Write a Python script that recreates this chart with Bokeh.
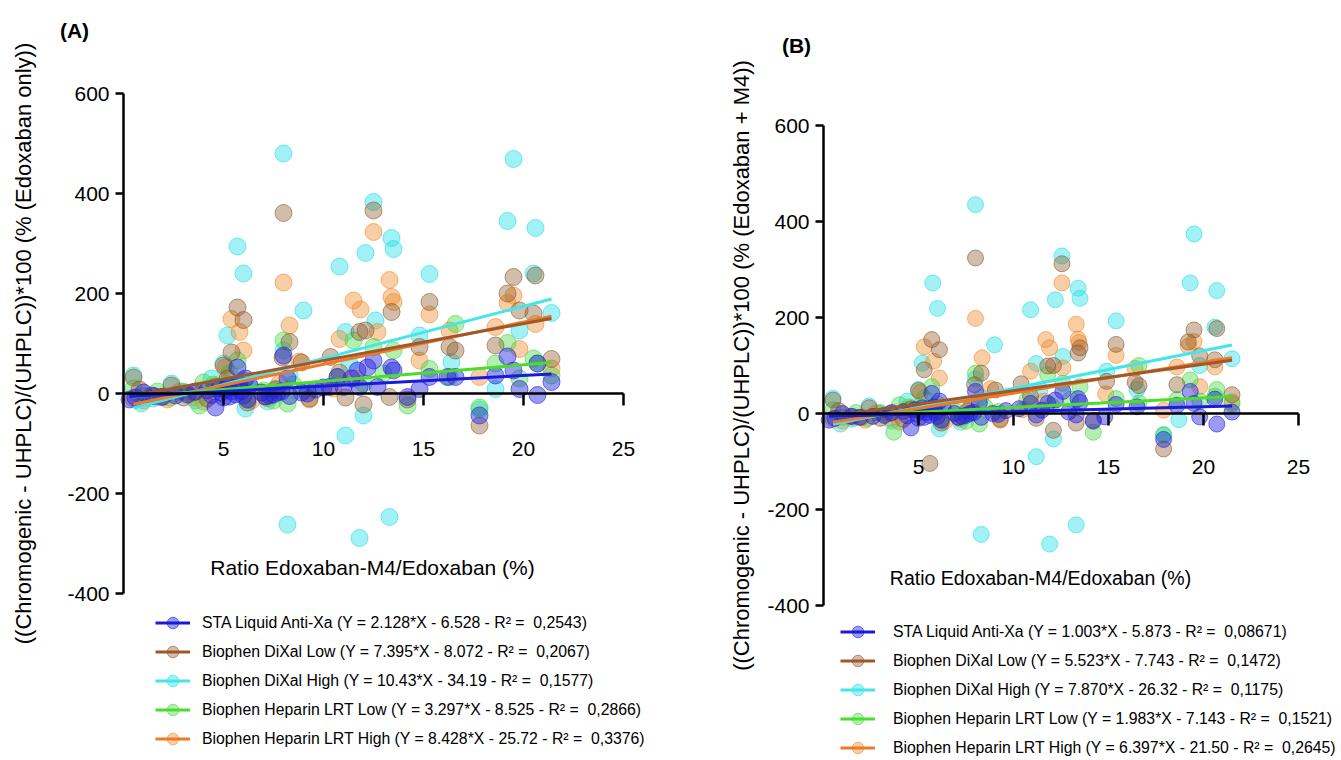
from bokeh.plotting import figure
from bokeh.models import Range1d, FixedTicker, Legend, LegendItem, Label
from bokeh.layouts import row
from bokeh.embed import file_html
from bokeh.resources import INLINE

FONT = "Liberation Sans"

series_names = ["STA Liquid Anti-Xa", "Biophen DiXal Low", "Biophen DiXal High",
                "Biophen Heparin LRT Low", "Biophen Heparin LRT High"]
line_colors = ["#1a1ad9", "#a0582a", "#45e6ea", "#4ade2a", "#ec7a28"]
fill_colors = ["#2222e0", "#8b5a2b", "#22dfe6", "#3fd93f", "#ef8a2c"]
fill_alphas = [0.45, 0.4, 0.42, 0.4, 0.42]

x_ticks = [5, 10, 15, 20, 25]
y_ticks = [-400, -200, 0, 200, 400, 600]
y_tick_text = {-400: "-400", -200: "-200", 0: "0", 200: "200", 400: "400", 600: "600"}

# ---------------- Panel A (Edoxaban only) ----------------
a_sta_x = [0.3, 0.6, 1.0, 1.5, 1.9, 2.6, 3.2, 3.6, 4.2, 4.4, 4.6, 4.8, 4.9, 5.0, 5.1, 5.2, 5.3, 5.4, 5.5, 5.6,
           5.7, 5.8, 5.9, 6.0, 6.1, 6.2, 6.3, 6.9, 7.1, 7.3, 7.5, 7.7, 7.9, 8.0, 8.2, 8.3, 8.9, 9.2, 9.6, 10.0,
           10.3, 10.7, 11.0, 11.4, 11.7, 11.8, 12.2, 12.5, 12.7, 13.4, 13.5, 14.2, 14.8, 15.3, 16.2, 16.6, 17.8,
           18.6, 19.2, 19.5, 19.8, 20.7, 20.7, 21.4]
a_sta_y = [-12, -8, 2, -5, -7, -4, -2, 4, 6, -3, -28, 10, 2, -8, 8, 14, -6, 4, 12, -2,
           52, 18, 5, -4, 30, -12, 16, 2, -6, -4, -2, 2, 4, 76, 30, -5, 2, 0, 8, 12,
           13, 33, 13, 30, 46, 13, 52, 66, 13, 52, 46, -7, 9, 33, 33, 33, -44,
           36, 74, 46, 9, 60, -3, 23]

a_dlow_x = [0.5, 0.8, 1.4, 2.0, 2.4, 3.0, 3.5, 4.2, 4.6, 5.0, 5.2, 5.4, 5.7, 6.0, 6.2, 7.1, 7.6, 7.95, 8.0, 8.3,
            8.9, 9.3, 10.35, 10.8, 11.1, 11.8, 12.0, 12.1, 12.5, 13.3, 13.4, 14.2, 14.8, 15.3, 16.3, 16.6, 17.8,
            18.6, 19.2, 19.5, 19.8, 20.5, 20.6, 21.4]
a_dlow_y = [32, 8, -4, -6, 16, -8, 2, -10, 14, 56, 30, 82, 172, 147, -18, -6, 8, 72, 361, 103,
            62, -10, 73, 42, -8, 123, -22, 126, 366, -7, 163, -12, 93, 183, 93, 86, -64,
            96, 200, 233, 166, 160, 236, 69]

a_dhigh_x = [0.5, 0.9, 1.5, 2.4, 3.0, 3.6, 4.4, 5.0, 5.1, 5.2, 5.7, 6.0, 6.1, 6.3, 7.2, 7.6, 8.0, 8.0, 8.2, 8.3,
             9.0, 10.8, 11.1, 11.1, 11.3, 11.8, 12.0, 12.1, 12.5, 12.6, 13.3, 13.4, 13.5, 14.8, 15.3, 16.4,
             17.8, 18.6, 19.2, 19.5, 19.8, 20.5, 20.6, 21.4]
a_dhigh_y = [36, -20, -10, 20, 4, -14, 30, 60, 20, 116, 294, 240, -30, 16, -16, 10, 480, 86, -262, 40,
             166, 254, -84, 123, 60, -289, -44, 281, 383, 146, -247, 311, 289, 116, 239, 63,
             -32, 9, 345, 469, 126, 240, 331, 161]

a_hlow_x = [0.5, 1.0, 1.7, 2.3, 3.0, 3.8, 4.0, 4.5, 5.0, 5.3, 5.7, 6.0, 6.2, 7.0, 7.5, 8.0, 8.2, 8.5, 9.2, 10.7,
            11.5, 12.0, 12.5, 13.0, 13.5, 14.2, 15.3, 16.3, 16.6, 17.8, 18.6, 19.2, 19.8, 20.5, 20.7, 21.4]
a_hlow_y = [10, -6, 4, -8, 2, -24, 22, 18, 10, 40, 66, 26, -10, 6, -14, 106, -20, 18, 6, 33,
            106, 20, 93, 40, 86, -24, 49, 33, 139, -28, 60, 101, 30, 70, 60, 36]

a_hhigh_x = [0.5, 1.0, 1.6, 2.2, 2.8, 3.5, 4.0, 4.5, 5.1, 5.4, 5.8, 6.0, 6.4, 7.2, 7.8, 8.0, 8.3, 8.8, 9.3, 10.5,
             10.8, 11.5, 11.6, 11.85, 12.5, 12.7, 13.3, 13.4, 13.5, 14.8, 15.3, 16.3, 17.8, 18.6, 19.2, 19.5,
             19.8, 20.6, 21.4]
a_hhigh_y = [-10, -14, -6, -12, 4, -8, -16, 10, 52, 149, 123, 86, -14, -10, 20, 222, 136, 64, -12, 10,
             109, 186, 30, 168, 323, 123, 227, 193, 183, 66, 158, 126, 33, 133, 181, 196,
             89, 139, 50]

a_slopes = ["2.128", "7.395", "10.43", "3.297", "8.428"]
a_intercepts = ["6.528", "8.072", "34.19", "8.525", "25.72"]
a_r2 = ["0,2543", "0,2067", "0,1577", "0,2866", "0,3376"]

# ---------------- Panel B (Edoxaban + M4) ----------------
b_sta_x = [0.3, 0.6, 1.0, 1.5, 1.9, 2.6, 3.2, 3.6, 4.2, 4.4, 4.6, 4.8, 4.9, 5.0, 5.1, 5.2, 5.3, 5.4, 5.5, 5.6,
           5.7, 5.8, 5.9, 6.0, 6.1, 6.2, 6.3, 6.9, 7.1, 7.3, 7.5, 7.7, 7.9, 8.0, 8.2, 8.3, 8.9, 9.2, 9.6, 10.3,
           10.9, 11.2, 11.5, 11.8, 12.2, 12.6, 12.9, 13.3, 13.4, 13.5, 14.2, 14.8, 15.4, 16.5, 17.9,
           18.6, 19.3, 19.5, 19.8, 20.6, 20.7, 21.5]
b_sta_y = [-14, -10, 0, -6, -8, -6, -4, 2, 4, -5, -30, 8, 0, -10, 6, 12, -8, 2, 10, -4,
           42, 14, 2, -6, 26, -14, 12, 0, -8, -6, -4, 0, 2, 46, 22, -8, 0, -2, 6, 10,
           21, -3, 7, 21, 28, 46, 3, -3, 31, 23, -16, -7, 19, 14, -54,
           17, 46, 21, -7, 30, -22, 3]

b_dlow_x = [0.5, 0.8, 1.4, 2.0, 2.4, 3.0, 3.5, 4.2, 4.6, 5.0, 5.3, 5.6, 5.7, 6.1, 6.2, 7.1, 7.6, 7.95, 8.0, 8.3,
            9.05, 9.3, 10.4, 10.9, 11.2, 11.8, 12.1, 12.1, 12.55, 13.3, 13.4, 13.5, 14.2, 14.9, 15.4, 16.4,
            16.6, 17.9, 18.6, 19.2, 19.5, 19.8, 20.6, 20.7, 21.5]
b_dlow_y = [28, 6, -6, -8, 12, -10, 0, -12, 10, 48, 91, -104, 154, 133, -20, -8, 6, 60, 324, 84,
            49, -12, 62, 36, -10, 99, 100, -35, 312, -20, 126, 137, -14, 67, 144, 65,
            58, -74, 60, 149, 174, 120, 112, 177, 39]

b_dhigh_x = [0.5, 0.9, 1.5, 2.4, 3.0, 3.6, 4.4, 5.0, 5.1, 5.2, 5.75, 6.0, 6.1, 6.3, 7.2, 7.6, 8.0, 8.0, 8.3, 8.3,
             9.0, 10.9, 11.2, 11.2, 11.4, 11.9, 12.1, 12.2, 12.55, 12.6, 13.3, 13.4, 13.5, 14.9, 15.4, 16.5,
             17.9, 18.7, 19.3, 19.5, 19.8, 20.6, 20.7, 21.5]
b_dhigh_y = [32, -22, -12, 16, 2, -16, 26, 50, 16, 105, 272, 219, -32, 12, -18, 8, 435, 72, -252, 34,
             143, 216, -90, 104, 50, -272, -53, 237, 328, 119, -232, 261, 240, 88, 193, 50,
             -44, -13, 272, 374, 100, 180, 256, 114]

b_hlow_x = [0.5, 1.0, 1.7, 2.3, 3.0, 3.7, 4.0, 4.5, 5.0, 5.3, 5.7, 6.0, 6.2, 7.0, 7.5, 8.0, 8.2, 8.5, 9.2, 10.7,
            11.8, 12.0, 12.6, 13.0, 13.5, 14.2, 15.4, 16.6, 16.6, 17.9, 18.6, 19.3, 19.8, 20.6, 20.7, 21.5]
b_hlow_y = [8, -8, 2, -10, 0, -39, 18, 14, 8, 32, 56, 20, -12, 4, -16, 84, -22, 14, 4, 28,
            81, 16, 63, 30, 56, -39, 31, 100, 22, -45, 29, 70, 26, 36, 50, 20]

b_hhigh_x = [0.5, 1.0, 1.6, 2.2, 2.8, 3.5, 4.0, 4.5, 5.1, 5.3, 5.8, 6.1, 6.4, 7.2, 7.8, 8.0, 8.35, 8.8, 9.3, 10.5,
             10.9, 11.7, 11.6, 11.9, 12.55, 12.6, 13.3, 13.4, 13.45, 14.85, 15.4, 16.4, 17.9, 18.6, 19.2, 19.5,
             19.8, 20.6, 21.5]
b_hhigh_y = [-12, -16, -8, -14, 2, -10, -18, 8, 44, 139, 109, 74, -16, -12, 16, 198, 116, 52, -14, 8,
             88, 154, 26, 137, 272, 95, 186, 155, 148, 41, 121, 94, 7, 97, 140, 150,
             56, 97, 24]

b_slopes = ["1.003", "5.523", "7.870", "1.983", "6.397"]
b_intercepts = ["5.873", "7.743", "26.32", "7.143", "21.50"]
b_r2 = ["0,08671", "0,1472", "0,1175", "0,1521", "0,2645"]

a_xs = [a_sta_x, a_dlow_x, a_dhigh_x, a_hlow_x, a_hhigh_x]
a_ys = [a_sta_y, a_dlow_y, a_dhigh_y, a_hlow_y, a_hhigh_y]
b_xs = [b_sta_x, b_dlow_x, b_dhigh_x, b_hlow_x, b_hhigh_x]
b_ys = [b_sta_y, b_dlow_y, b_dhigh_y, b_hlow_y, b_hhigh_y]

DRAW_ORDER = [2, 4, 3, 1, 0]  # cyan, orange, green, brown, blue (blue on top)


def make_panel(xs_all, ys_all, slopes, intercepts, r2s, ytitle, letter, cfg):
    p = figure(width=cfg["w"], height=cfg["h"], min_border=0,
               x_range=Range1d(*cfg["xr"]), y_range=Range1d(*cfg["yr"]),
               output_backend="svg", toolbar_location=None, tools="")
    p.grid.visible = False
    p.outline_line_color = None
    p.background_fill_color = "white"
    p.border_fill_color = "white"

    for ax in (p.xaxis[0], p.yaxis[0]):
        ax.axis_line_width = 2.5
        ax.axis_line_color = "black"
        ax.major_tick_line_width = 2.5
        ax.major_tick_line_color = "black"
        ax.minor_tick_line_color = None
        ax.major_tick_in = 0
        ax.major_label_text_font = FONT
        ax.major_label_text_font_size = cfg["tick_font"]
        ax.major_label_text_color = "black"
    p.xaxis.ticker = FixedTicker(ticks=x_ticks)
    p.yaxis.ticker = FixedTicker(ticks=y_ticks)
    p.yaxis.major_label_overrides = y_tick_text
    p.xaxis.bounds = (0, 25)
    p.yaxis.bounds = (-400, 600)
    p.xaxis.fixed_location = 0
    p.yaxis.fixed_location = 0
    p.xaxis.major_tick_out = 12
    p.xaxis.major_label_standoff = cfg["xlab_standoff"]
    p.yaxis.major_tick_out = 8
    p.yaxis.major_label_standoff = 6
    p.yaxis.axis_label = ytitle
    p.yaxis.axis_label_text_font = FONT
    p.yaxis.axis_label_text_font_size = cfg["ytitle_font"]
    p.yaxis.axis_label_text_font_style = "normal"
    p.yaxis.axis_label_text_color = "black"
    p.yaxis.axis_label_standoff = cfg["ytitle_standoff"]

    scat = {}
    for i in DRAW_ORDER:
        scat[i] = p.scatter(xs_all[i], ys_all[i], marker="circle", size=cfg["pt"],
                            fill_color=fill_colors[i], fill_alpha=fill_alphas[i],
                            line_color=fill_colors[i], line_alpha=0.6, line_width=1)
    lines = {}
    for i in DRAW_ORDER:
        m = float(slopes[i])
        b = -float(intercepts[i])
        x0, x1 = min(xs_all[i]), max(xs_all[i])
        lines[i] = p.line([x0, x1], [m * x0 + b, m * x1 + b],
                          line_color=line_colors[i], line_width=3)

    items = []
    for i in range(5):
        txt = f"{series_names[i]} (Y = {slopes[i]}*X - {intercepts[i]} - R\u00b2 =  {r2s[i]})"
        items.append(LegendItem(label=txt, renderers=[scat[i], lines[i]]))
    legend = Legend(items=items, location=cfg["legend_loc"], orientation="vertical",
                    border_line_color=None, background_fill_alpha=0,
                    padding=0, margin=0, spacing=0,
                    glyph_width=35, glyph_height=29, label_height=29,
                    label_standoff=cfg["label_standoff"],
                    label_text_font=FONT, label_text_font_size="15.8px",
                    label_text_color="black")
    p.add_layout(legend)

    p.add_layout(Label(x=cfg["xtitle_pos"][0], y=cfg["xtitle_pos"][1], text="Ratio Edoxaban-M4/Edoxaban (%)",
                       text_font=FONT, text_font_size=cfg["xtitle_font"], text_color="black",
                       text_align="center", text_baseline="middle"))
    p.add_layout(Label(x=cfg["letter_pos"][0], y=cfg["letter_pos"][1], text=letter,
                       text_font=FONT, text_font_size="21px", text_font_style="bold",
                       text_color="black", text_align="center", text_baseline="middle"))
    return p


# Panel A: x 0..25 -> page 123..623 (20 px/unit), y 600..-400 -> page 93..593 (0.5 px/unit)
cfg_a = dict(w=708, h=758, xr=(-6.15, 29.25), yr=(-730, 786), pt=17, tick_font="21px",
             ytitle_font="22px", ytitle_standoff=28, xlab_standoff=36,
             legend_loc=(155, 5), label_standoff=12,
             xtitle_font="21px", xtitle_pos=(12.45, -348), letter_pos=(-2.45, 726))
# Panel B: x 0..25 -> page 823..1298 (19 px/unit), y 600..-400 -> page 125..605 (0.48 px/unit)
cfg_b = dict(w=632, h=758, xr=(-6.0526, 27.21), yr=(-718.75, 860.42), pt=16, tick_font="21px",
             ytitle_font="22px", ytitle_standoff=10, xlab_standoff=34,
             legend_loc=(132, -4), label_standoff=18,
             xtitle_font="19.5px", xtitle_pos=(11.42, -342), letter_pos=(-1.42, 767))

pa = make_panel(a_xs, a_ys, a_slopes, a_intercepts, a_r2,
                "((Chromogenic - UHPLC)/(UHPLC))*100 (% (Edoxaban only))", "(A)", cfg_a)
pb = make_panel(b_xs, b_ys, b_slopes, b_intercepts, b_r2,
                "((Chromogenic - UHPLC)/(UHPLC))*100 (% (Edoxaban + M4))", "(B)", cfg_b)

layout = row(pa, pb)
open("out.html", "w").write(file_html(layout, INLINE))
